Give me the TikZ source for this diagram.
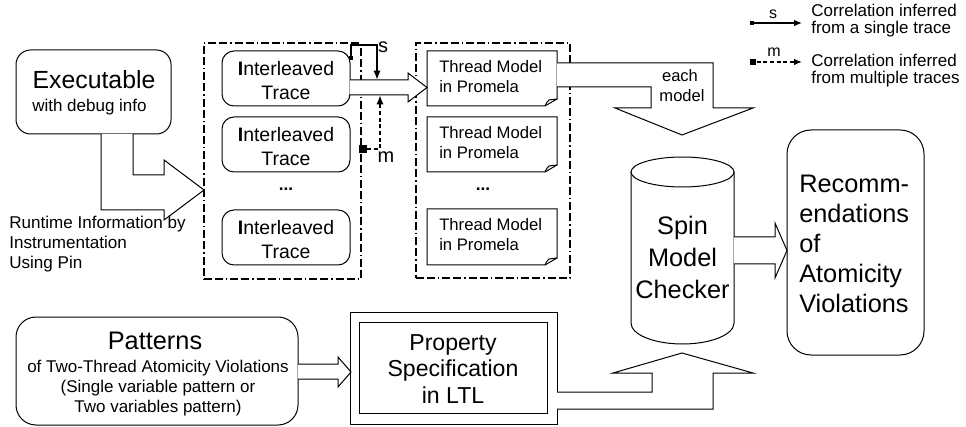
\documentclass[tikz,border=0pt]{standalone}
\usepackage{fontspec}
\setmainfont{Liberation Sans}
\usetikzlibrary{arrows.meta}
\newcommand\myfs[1]{\fontsize{#1pt}{1.2\dimexpr#1pt\relax}\selectfont}
\begin{document}
\begin{tikzpicture}[x=0.75pt,y=-0.75pt,
  thinline/.style={draw=black,line width=0.75pt},
  rbox/.style={thinline,rectangle,inner sep=0pt},
  frame/.style={draw=black,line width=1.5pt,dash pattern=on 6pt off 2.25pt on 6pt off 2.25pt on 1pt off 2.25pt},
  txt/.style={inner sep=0pt,anchor=base},
  txtw/.style={inner sep=0pt,anchor=base west},
  sq/.style={fill=black,inner sep=0pt,rectangle},
  sarrow/.style={draw=black,line width=1.5pt,-{Latex[length=7pt,width=5.5pt]}},
  marrow/.style={draw=black,line width=1.5pt,dash pattern=on 3pt off 2pt,-{Latex[length=7pt,width=5.5pt]}},
  block/.style={thinline,fill=white,line join=miter}]
\useasboundingbox (0,0) rectangle (966,427);

% ---------- Executable ----------
\node[rbox,rounded corners=11pt,minimum width=116.25pt,minimum height=63pt] (exe) at (93.5,92) {};
\node[txt,font=\myfs{18.6}] (exeA) at (94,89) {Executable};
\node[txtw,font=\myfs{12.75}] (exeB) at (32,112) {with debug info};

% bent block arrow executable -> traces
\draw[block] (101,134) -- (101,210) -- (164,210) -- (164,220) -- (204,190) -- (164,160) -- (164,175) -- (133,175) -- (133,134);
\node[txtw,font=\myfs{12.8}] (rt1) at (9,229) {Runtime Information by};
\node[txtw,font=\myfs{12.8}] (rt2) at (9,249) {Instrumentation};
\node[txtw,font=\myfs{12.8}] (rt3) at (9,269) {Using Pin};

% ---------- Trace frame ----------
\node[frame,rectangle,inner sep=0pt,minimum width=117.75pt,minimum height=177pt] (frameA) at (282.5,161) {};
\foreach \t/\n in {51/1,117/2,210/3}{
  \node[rbox,rounded corners=9pt,minimum width=96pt,minimum height=41.25pt] (trace\n) at (286,\t+27.5) {};
  \node[txt,font=\myfs{14.6}] (traceA\n) at (286,\t+25) {\textbf{I}nterleaved};
  \node[txt,font=\myfs{14.6}] (traceB\n) at (286,\t+49) {Trace};
}
\node[txt,font=\myfs{13}\bfseries] (dotsA) at (286,191) {...};

% ---------- Model frame ----------
\node[frame,rectangle,inner sep=0pt,minimum width=115.5pt,minimum height=176.25pt] (frameB) at (493,160.5) {};
\foreach \t/\b/\n in {51/106/1,117/172/2,209/265/3}{
  \draw[thinline,line join=miter] (427,\t) -- (557,\t) -- (557,\b-7) -- (545,\b) -- (427,\b) -- cycle;
  \draw[thinline] (545,\b) .. controls (547,\b-4) .. (549,\b-6) -- (557,\b-7);
  \node[txtw,font=\myfs{12.5}] (modelA\n) at (439,\t+22) {Thread Model};
  \node[txtw,font=\myfs{12.5}] (modelB\n) at (439,\t+42) {in Promela};
}
\node[txt,font=\myfs{13}\bfseries] (dotsB) at (483,191) {...};

% hollow arrow trace1 -> model1
\draw[block] (350,80) -- (408,80) -- (408,73) -- (427,87.5) -- (408,102) -- (408,95) -- (350,95);

% s / m arrows
\coordinate (s0) at (351,58);
\coordinate (s1) at (351,45);
\coordinate (s2) at (377,45);
\coordinate (s3) at (377,80);
\draw[sarrow] (s0) -- (s1) -- (s2) -- (s3);
\node[sq,minimum size=3.5pt] (sqS) at (s0) {};
\node[txt,font=\myfs{15}] (lblS) at (383,53) {s};
\coordinate (m1) at (380,149);
\coordinate (m2) at (380,95);
\node[sq,minimum size=6pt] (sqM) at (363,149) {};
\draw[marrow] (sqM.east) -- (m1) -- (m2);
\node[txt,font=\myfs{15}] (lblM) at (386,163) {m};

% bent block arrow model1 -> spin
\draw[block] (557,63) -- (713,63) -- (713,108) -- (753,108) -- (682,135) -- (615,108) -- (651,108) -- (651,87) -- (557,87);
\node[txt,font=\myfs{12.4}] (eachA) at (680,82) {each};
\node[txt,font=\myfs{12.4}] (eachB) at (682,102) {model};

% ---------- Spin cylinder ----------
\draw[thinline] (631,172) -- (631,323) arc[start angle=180,end angle=360,x radius=38.625pt,y radius=15.75pt] -- (734,172);
\draw[thinline] (682.5,172) ellipse [x radius=38.625pt,y radius=11.25pt];
\coordinate (spin) at (682.5,250);
\node[txt,font=\myfs{19}] (spinA) at (682.5,235) {Spin};
\node[txt,font=\myfs{19}] (spinB) at (682.5,267) {Model};
\node[txt,font=\myfs{19}] (spinC) at (682.5,298) {Checker};

% hollow arrow spin -> recommendations
\draw[block] (734,237) -- (775,237) -- (775,223) -- (787,250.5) -- (775,278) -- (775,264) -- (734,264);

% ---------- Recommendations ----------
\node[rbox,rounded corners=18pt,minimum width=102.75pt,minimum height=168.75pt] (rec) at (855.5,242.5) {};
\node[txtw,font=\myfs{19}] (recA) at (799,193) {Recomm-};
\node[txtw,font=\myfs{19}] (recB) at (799,222.8) {endations};
\node[txtw,font=\myfs{19}] (recC) at (799,252.6) {of};
\node[txtw,font=\myfs{19}] (recD) at (799,282.4) {Atomicity};
\node[txtw,font=\myfs{19}] (recE) at (799,312.2) {Violations};

% ---------- Patterns ----------
\node[rbox,rounded corners=15pt,minimum width=211.5pt,minimum height=81pt] (pat) at (157,371) {};
\node[txt,font=\myfs{19}] (patA) at (155,349) {Patterns};
\node[txt,font=\myfs{12.75}] (patB) at (158,372) {of Two-Thread Atomicity Violations};
\node[txt,font=\myfs{12.75}] (patC) at (158,392) {(Single variable pattern or};
\node[txt,font=\myfs{12.75}] (patD) at (158,412) {Two variables pattern)};

% hollow arrow patterns -> property
\draw[block] (298,364) -- (338,364) -- (338,357) -- (351,372) -- (338,387) -- (338,379) -- (298,379);

% ---------- Property ----------
\node[rbox,minimum width=155.25pt,minimum height=84pt] (propO) at (453.5,368) {};
\node[rbox,minimum width=141pt,minimum height=68.25pt] (propI) at (453,367.5) {};
\node[txt,font=\myfs{17.3}] (propA) at (453,350) {Property};
\node[txt,font=\myfs{17.3}] (propB) at (453,376) {Specification};
\node[txt,font=\myfs{17.3}] (propC) at (453,403) {in LTL};

% bent block arrow property -> spin
\draw[block] (557,392) -- (652,392) -- (652,373) -- (613,373) -- (682,353) -- (753,373) -- (713,373) -- (713,409) -- (557,409);

% ---------- Legend ----------
\node[sq,minimum size=2.5pt] (lgS) at (752,23) {};
\coordinate (lgSe) at (802,23);
\draw[draw=black,line width=1.1pt,-{Latex[length=6pt,width=5pt]}] (lgS.center) -- (lgSe);
\node[txt,font=\myfs{12}] (lgSl) at (773,19) {s};
\node[txtw,font=\myfs{12.75}] (lg1) at (811,17) {Correlation inferred};
\node[txtw,font=\myfs{12.75}] (lg2) at (811,34) {from a single trace};
\node[sq,minimum size=5pt] (lgM) at (753,62) {};
\coordinate (lgMe) at (802,62);
\draw[draw=black,line width=1.1pt,dash pattern=on 3pt off 2pt,-{Latex[length=6pt,width=5pt]}] (lgM.east) -- (lgMe);
\node[txt,font=\myfs{12}] (lgMl) at (774,57) {m};
\node[txtw,font=\myfs{12.75}] (lg3) at (811,67) {Correlation inferred};
\node[txtw,font=\myfs{12.75}] (lg4) at (811,84) {from multiple traces};
\end{tikzpicture}
\end{document}
